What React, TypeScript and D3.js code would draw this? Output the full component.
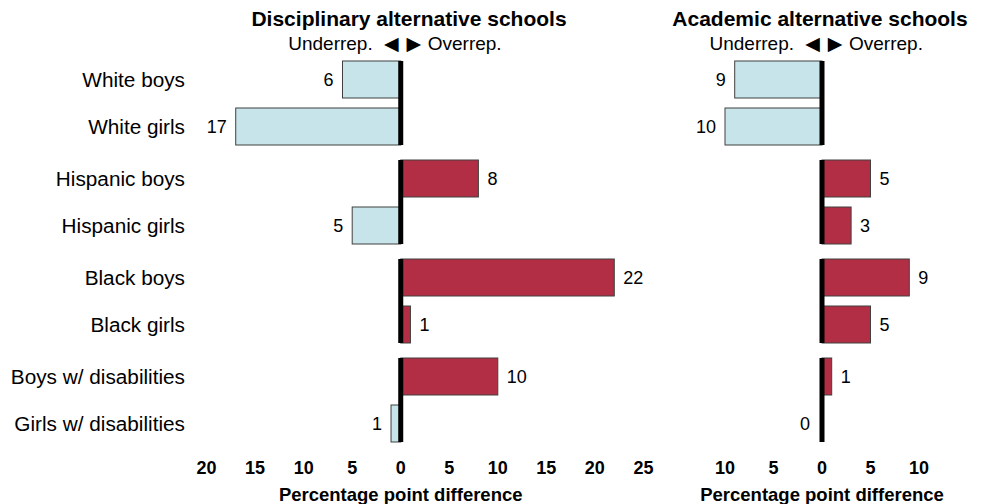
import React from "react";
import * as d3 from "d3";

const categories = [
  "White boys", "White girls",
  "Hispanic boys", "Hispanic girls",
  "Black boys", "Black girls",
  "Boys w/ disabilities", "Girls w/ disabilities",
];
const groups = ["White", "Hispanic", "Black", "Disabilities"];
const disciplinary = [-6, -17, 8, -5, 22, 1, 10, -1];
const academic = [-9, -10, 5, 3, 9, 5, 1, 0];
const leftTicks = [-20, -15, -10, -5, 0, 5, 10, 15, 20, 25];
const rightTicks = [-10, -5, 0, 5, 10];

const W = 984, H = 504;
const FONT = "'Liberation Sans', Arial, Helvetica, sans-serif";
const POS = "#B22E45";
const NEG = "#C6E4E9";
const STROKE = "#404040";

const groupScale = d3.scaleBand<string>().domain(groups).range([61, 442]).paddingInner(15 / 99).paddingOuter(0);
const innerScale = d3.scaleBand<number>().domain([0, 1]).range([0, groupScale.bandwidth()]).paddingInner(10 / 47).paddingOuter(0);

function rowY(i: number) {
  return (groupScale(groups[Math.floor(i / 2)]) as number) + (innerScale(i % 2) as number);
}

function Panel({ values, x, ticks, title, titleX }: { values: number[]; x: d3.ScaleLinear<number, number>; ticks: number[]; title: string; titleX: number }) {
  const x0 = x(0);
  const bw = innerScale.bandwidth();
  return (
    <g>
      <text x={titleX} y={26} textAnchor="middle" fontWeight="bold" fontSize={21} fontFamily={FONT}>{title}</text>
      <g fontSize={19} fontFamily={FONT}>
        <text x={x0 - 28} y={50} textAnchor="end">Underrep.</text>
        <text x={x0 - 9.5} y={49.5} textAnchor="middle" fontFamily="'DejaVu Sans', sans-serif" fontSize={19}>◀</text>
        <text x={x0 + 13} y={49.5} textAnchor="middle" fontFamily="'DejaVu Sans', sans-serif" fontSize={19}>▶</text>
        <text x={x0 + 27} y={50} textAnchor="start">Overrep.</text>
      </g>
      {values.map((v, i) => {
        const y = rowY(i);
        const xa = Math.min(x(v), x0);
        const w = Math.abs(x(v) - x0);
        return (
          <g key={i}>
            {w > 0 && (
              <rect x={xa} y={y} width={w} height={bw} fill={v > 0 ? POS : NEG} stroke={STROKE} strokeWidth={1} />
            )}
            <text
              x={v > 0 ? x(v) + 9 : x(v) - 9 - (v === 0 ? 3 : 0)}
              y={y + bw / 2}
              dy="0.36em"
              textAnchor={v > 0 ? "start" : "end"}
              fontSize={18}
              fontFamily={FONT}
            >
              {Math.abs(v)}
            </text>
          </g>
        );
      })}
      {groups.map((g) => (
        <rect key={g} x={x0 - 2.5} y={groupScale(g) as number} width={5} height={groupScale.bandwidth()} fill="#000" />
      ))}
      {ticks.map((t) => (
        <text key={t} x={x(t)} y={474} textAnchor="middle" fontWeight="bold" fontSize={18} fontFamily={FONT}>
          {Math.abs(t)}
        </text>
      ))}
      <text x={x0} y={501} textAnchor="middle" fontWeight="bold" fontSize={18.5} fontFamily={FONT}>Percentage point difference</text>
    </g>
  );
}

export default function App() {
  const xLeft = d3.scaleLinear().domain([-20, 25]).range([206.6, 643.4]);
  const xRight = d3.scaleLinear().domain([-10, 10]).range([725, 919]);
  return (
    <svg width={W} height={H} style={{ position: "absolute", left: 0, top: 0, background: "#fff" }}>
      <rect width={W} height={H} fill="#fff" />
      {categories.map((c, i) => (
        <text key={c} x={185} y={rowY(i) + innerScale.bandwidth() / 2} dy="0.36em" textAnchor="end" fontSize={20.75} fontFamily={FONT}>
          {c}
        </text>
      ))}
      <Panel values={disciplinary} x={xLeft} ticks={leftTicks} title="Disciplinary alternative schools" titleX={409} />
      <Panel values={academic} x={xRight} ticks={rightTicks} title="Academic alternative schools" titleX={820} />
    </svg>
  );
}
